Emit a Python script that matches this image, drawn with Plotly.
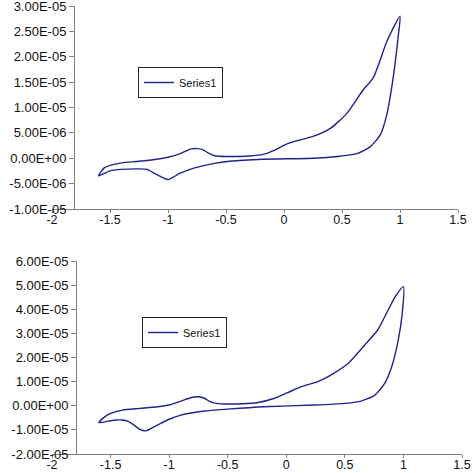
import plotly.graph_objects as go

# top voltammogram: forward (upper) branch then reverse (lower) branch
top_x = [-1.60, -1.55, -1.50, -1.40, -1.25, -1.10, -1.00, -0.90, -0.80, -0.75, -0.70,
         -0.65, -0.60, -0.50, -0.30, -0.18, -0.09, 0.02, 0.11, 0.25, 0.40, 0.54, 0.68,
         0.77, 0.89, 1.00,
         0.985, 0.94, 0.885, 0.83, 0.74, 0.63, 0.48, 0.25, -0.18, -0.47, -0.60, -0.77,
         -0.90, -1.00, -1.10, -1.18, -1.25, -1.40, -1.50, -1.55, -1.60]
top_y = [-3.5e-6, -1.9e-6, -1.4e-6, -0.9e-6, -0.6e-6, -0.2e-6, 0.2e-6, 0.85e-6, 1.85e-6,
         1.9e-6, 1.7e-6, 1.0e-6, 0.5e-6, 0.35e-6, 0.45e-6, 0.75e-6, 1.5e-6, 2.8e-6, 3.45e-6,
         4.3e-6, 5.9e-6, 8.8e-6, 13.4e-6, 15.9e-6, 23.2e-6, 28.0e-6,
         24.1e-6, 15.7e-6, 8.5e-6, 4.6e-6, 2.2e-6, 0.9e-6, 0.4e-6, 0.0, -0.2e-6, -0.6e-6,
         -1.0e-6, -1.9e-6, -3.0e-6, -4.2e-6, -3.2e-6, -2.2e-6, -2.1e-6, -2.2e-6, -2.5e-6,
         -3.0e-6, -3.5e-6]

# bottom voltammogram
bot_x = [-1.60, -1.55, -1.50, -1.40, -1.25, -1.10, -1.00, -0.90, -0.80, -0.75, -0.70,
         -0.65, -0.60, -0.50, -0.25, -0.10, 0.01, 0.13, 0.27, 0.38, 0.53, 0.67, 0.78,
         0.87, 0.93, 1.00,
         0.99, 0.956, 0.90, 0.84, 0.756, 0.64, 0.50, 0.24, -0.19, -0.50, -0.70, -0.90,
         -1.00, -1.10, -1.20, -1.25, -1.30, -1.35, -1.40, -1.45, -1.50, -1.60]
bot_y = [-7.0e-6, -4.6e-6, -3.2e-6, -1.8e-6, -1.1e-6, -0.4e-6, 0.3e-6, 1.95e-6, 3.5e-6,
         3.7e-6, 3.1e-6, 1.7e-6, 1.0e-6, 0.7e-6, 1.25e-6, 3.1e-6, 5.4e-6, 7.9e-6, 10.0e-6,
         12.7e-6, 17.6e-6, 25.2e-6, 31.4e-6, 39.7e-6, 45.2e-6, 49.4e-6,
         38.3e-6, 27.3e-6, 16.2e-6, 9.3e-6, 4.4e-6, 1.95e-6, 1.0e-6, 0.3e-6, -0.4e-6,
         -1.4e-6, -2.2e-6, -3.9e-6, -5.6e-6, -8.0e-6, -10.4e-6, -9.8e-6, -8.0e-6, -6.5e-6,
         -5.9e-6, -5.9e-6, -6.2e-6, -7.0e-6]

x_ticks = [-2, -1.5, -1, -0.5, 0, 0.5, 1, 1.5]
x_labels = ["-2", "-1.5", "-1", "-0.5", "0", "0.5", "1", "1.5"]

top_ticks = [-1e-5, -5e-6, 0, 5e-6, 1e-5, 1.5e-5, 2e-5, 2.5e-5, 3e-5]
top_labels = ["-1.00E-05", "-5.00E-06", "0.00E+00", "5.00E-06", "1.00E-05",
              "1.50E-05", "2.00E-05", "2.50E-05", "3.00E-05"]

bot_ticks = [-2e-5, -1e-5, 0, 1e-5, 2e-5, 3e-5, 4e-5, 5e-5, 6e-5]
bot_labels = ["-2.00E-05", "-1.00E-05", "0.00E+00", "1.00E-05", "2.00E-05",
              "3.00E-05", "4.00E-05", "5.00E-05", "6.00E-05"]

W, H = 472, 473
LINE = "#22228f"
AXIS = "#808080"
FONT = "Liberation Sans"

fig = go.Figure()
fig.add_trace(go.Scatter(x=top_x, y=top_y, mode="lines", name="Series1",
                         line=dict(color=LINE, width=1.4, shape="spline", smoothing=0.6),
                         xaxis="x", yaxis="y", legend="legend", showlegend=True))
fig.add_trace(go.Scatter(x=bot_x, y=bot_y, mode="lines", name="Series1",
                         line=dict(color=LINE, width=1.4, shape="spline", smoothing=0.6),
                         xaxis="x2", yaxis="y2", legend="legend2", showlegend=True))

common_x = dict(range=[-2, 1.5], tickvals=x_ticks, ticktext=x_labels, showline=True,
                linecolor=AXIS, linewidth=1, ticks="outside", ticklen=3, tickcolor=AXIS,
                showgrid=False, zeroline=False, fixedrange=True, automargin=False,
                ticklabelstandoff=-4, ticklabeloverflow="allow",
                tickfont=dict(family=FONT, size=12.5, color="#111111"))
common_y = dict(showline=True, linecolor=AXIS, linewidth=1, ticks="outside", ticklen=5,
                tickcolor=AXIS, showgrid=False, zeroline=False, anchor="free",
                automargin=False, fixedrange=True, ticklabeloverflow="allow",
                tickfont=dict(family=FONT, size=13, color="#111111"))

legend_style = dict(bgcolor="white", bordercolor="#222222", borderwidth=1,
                    font=dict(family=FONT, size=11, color="#111111"),
                    xanchor="left", yanchor="top", itemwidth=30,
                    tracegroupgap=0, visible=True)

fig.update_layout(
    width=W, height=H,
    margin=dict(l=0, r=0, t=0, b=0),
    showlegend=True,
    paper_bgcolor="white", plot_bgcolor="white",
    xaxis=dict(common_x, domain=[52 / W, 458 / W], anchor="y"),
    yaxis=dict(common_y, range=[-1e-5, 3e-5], tickvals=top_ticks, ticktext=top_labels,
               domain=[1 - 209 / H, 1 - 6 / H], position=74 / W),
    xaxis2=dict(common_x, domain=[52 / W, 462 / W], anchor="y2"),
    yaxis2=dict(common_y, range=[-2e-5, 6e-5], tickvals=bot_ticks, ticktext=bot_labels,
                domain=[1 - 454 / H, 1 - 261 / H], position=76 / W),
    legend=dict(legend_style, x=138 / W, y=1 - 67 / H),
    legend2=dict(legend_style, x=142 / W, y=1 - 317 / H),
)

# drop the default 8px page margin so the figure sits flush in the window
fig.write_html("out.html", config={"displayModeBar": False},
               post_script="document.body.style.margin='0';")
